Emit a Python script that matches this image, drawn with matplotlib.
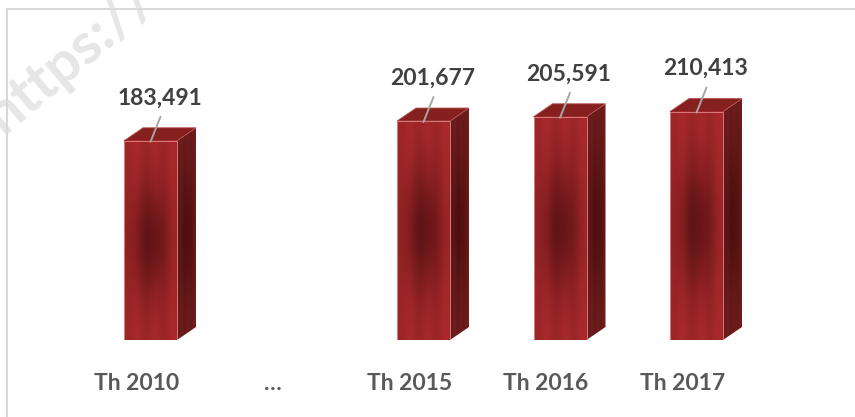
import numpy as np
import matplotlib
matplotlib.use('Agg')
import matplotlib.pyplot as plt
from matplotlib.patches import Polygon, Rectangle
from matplotlib.transforms import blended_transform_factory, ScaledTranslation

# ---- data ----
categories = ['Th 2010', '…', 'Th 2015', 'Th 2016', 'Th 2017']
values = [183491, None, 201677, 205591, 210413]
value_labels = ['183,491', '', '201,677', '205,591', '210,413']

plt.rcParams['font.family'] = ['Lato', 'DejaVu Sans']

W, H, DPI = 855, 417, 100
fig = plt.figure(figsize=(W / DPI, H / DPI), dpi=DPI)
fig.patch.set_facecolor('white')

# chart frame (only top and left edges visible in the crop)
fig.patches.append(Rectangle((7 / W, -0.1), 2.0, (H - 9) / H + 0.1,
                             transform=fig.transFigure, fill=False,
                             edgecolor='#d9d9d9', lw=1.5))

# faint watermark
fig.text(0.004, 0.675, 'https://', rotation=40, color='#e6e6e6',
         fontsize=42, fontweight='bold', ha='left', va='baseline',
         rotation_mode='anchor', zorder=0)

PX_PER_CAT = 136.5
VAL_PER_PX = 921.0
ax = fig.add_axes([14 / W, (H - 340) / H, 6 * PX_PER_CAT / W, 310 / H])
ax.set_xlim(-1, 5)
ax.set_ylim(0, 310 * VAL_PER_PX)
ax.axis('off')

bar_w = 53 / PX_PER_CAT
dx = 19 / PX_PER_CAT
dy = 13 * VAL_PER_PX


def grad(shape, edge, center, sx=0.35, sy=0.22):
    ny, nx = shape
    u = np.linspace(-1, 1, nx)[None, :]
    v = np.linspace(-1, 1, ny)[:, None]
    t = np.exp(-(u ** 2 / sx + v ** 2 / sy))
    e = np.array(edge)[None, None, :] / 255
    c = np.array(center)[None, None, :] / 255
    img = e * (1 - t[..., None]) + c * t[..., None]
    # subtle vertical streaks
    streak = 1 + 0.035 * np.sin(u * 9)[..., None]
    return np.clip(img * streak, 0, 1)


for i, v in enumerate(values):
    if v is None:
        continue
    x0, x1 = i - bar_w / 2, i + bar_w / 2
    # side face
    side = Polygon([(x1, 0), (x1 + dx, dy), (x1 + dx, v + dy), (x1, v)],
                   closed=True, transform=ax.transData, fc='none', ec='none')
    ax.add_patch(side)
    im = ax.imshow(grad((120, 20), (110, 28, 28), (78, 16, 16), 0.9, 0.4),
                   extent=(x1, x1 + dx, 0, v + dy), aspect='auto',
                   origin='lower', interpolation='bilinear', zorder=2)
    im.set_clip_path(side)
    # top face
    top = Polygon([(x0, v), (x1, v), (x1 + dx, v + dy), (x0 + dx, v + dy)],
                  closed=True, transform=ax.transData, fc='#86201f',
                  ec='#b85555', lw=0.6, zorder=3)
    ax.add_patch(top)
    # front face
    ax.imshow(grad((200, 60), (164, 40, 42), (98, 20, 22), 0.55, 0.35),
              extent=(x0, x1, 0, v), aspect='auto', origin='lower',
              interpolation='bilinear', zorder=4)
    ax.add_patch(Rectangle((x0, 0), bar_w, v, fill=False, ec='#e08a8a',
                           lw=0.6, zorder=5))
    # leader line and label
    ax.annotate('', xy=(i, v - 1 * VAL_PER_PX), xytext=(10 * 0.72, 25 * 0.72),
                textcoords='offset points',
                arrowprops=dict(arrowstyle='-', color='#a6a6a6', lw=1.4,
                                shrinkA=0, shrinkB=0), zorder=6)
    ax.annotate(value_labels[i], xy=(i, v), xytext=(9 * 0.72, 43 * 0.72),
                textcoords='offset points', ha='center', va='center',
                fontsize=16.5, fontweight='bold', color='#404040', zorder=6)

ax.set_xlim(-1, 5)
ax.set_ylim(0, 310 * VAL_PER_PX)

# category labels
tr = blended_transform_factory(ax.transData, ax.transAxes) + \
    ScaledTranslation(-14 / DPI, -44 / DPI, fig.dpi_scale_trans)
for i, c in enumerate(categories):
    ax.text(i, 0, c, transform=tr, ha='center', va='center', fontsize=16.5,
            fontweight='bold', color='#595959', clip_on=False)

fig.savefig('out.png', dpi=DPI, facecolor='white')
